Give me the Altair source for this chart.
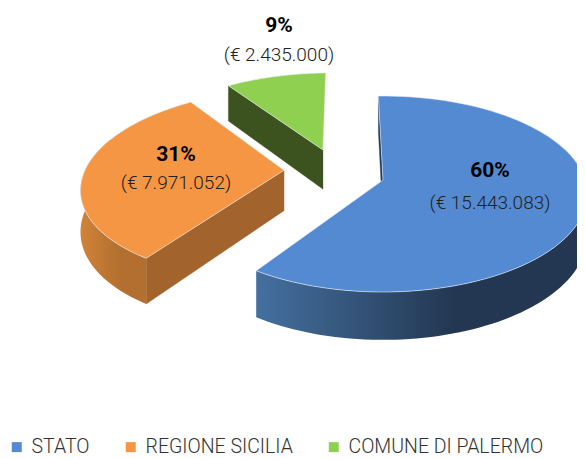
import altair as alt
import numpy as np
import pandas as pd

names = ["STATO", "REGIONE SICILIA", "COMUNE DI PALERMO"]
amounts = [15443083, 7971052, 2435000]
percent = ["60%", "31%", "9%"]
amount_text = ["(€ 15.443.083)", "(€ 7.971.052)", "(€ 2.435.000)"]
top_colors = ["#548ad2", "#f59644", "#90d050"]
wall_left = ["#44709f", "#d08339", "#3c5320"]
wall_right = ["#233752", "#b26f2f", "#3c5320"]
radial_colors = ["#1f3a5f", "#a2632c", "#3c5320"]
explode_u = [0.0, -0.497, -0.311]
explode_v = [0.0, -0.103, -0.327]
label_x = [490, 176, 279]
label_y1 = [171, 155, 26]
label_y2 = [203, 183, 55]

START = -1.5
CX, CY, RX, RY, K, DEPTH = 383, 180, 202, 96, 1 / 7, 41


def project(u, v, drop=False):
    den = 1 - K * v
    return CX + RX * u / den, CY + RY * v / den + (DEPTH / den if drop else 0)


total = sum(amounts)
bounds = START + np.cumsum([0] + [a / total * 360 for a in amounts])


def arc(i, a0, a1, drop=False):
    t = np.radians(np.linspace(a0, a1, 80))
    return project(explode_u[i] + np.sin(t), explode_v[i] - np.cos(t), drop)


def frame(xs, ys, **extra):
    return pd.DataFrame({"x": xs, "y": ys, "i": np.arange(len(xs)), **extra})


tops, walls, radials = [], [], []
wall_spans = [(70, bounds[1]), (bounds[1], 290), None]
for i, name in enumerate(names):
    ax, ay = project(explode_u[i], explode_v[i])
    x, y = arc(i, bounds[i], bounds[i + 1])
    tops.append(frame(np.r_[ax, x], np.r_[ay, y], name=name))
    bx, by = project(explode_u[i], explode_v[i], True)
    x0, y0 = arc(i, bounds[i], bounds[i] + 0.001)
    x1, y1 = arc(i, bounds[i], bounds[i] + 0.001, True)
    radials.append(frame([ax, x0[0], x1[0], bx], [ay, y0[0], y1[0], by], s=i))
    if wall_spans[i]:
        xt, yt = arc(i, *wall_spans[i])
        xb, yb = arc(i, *wall_spans[i], True)
        walls.append((i, frame(np.r_[xt, xb[::-1]], np.r_[yt, yb[::-1]])))

xs = alt.Scale(domain=[8, 577], range=[0, 569], nice=False, zero=False)
ys = alt.Scale(domain=[8, 459], range=[0, 451], nice=False, zero=False)
X = alt.X("x:Q", scale=xs, axis=None)
Y = alt.Y("y:Q", scale=ys, axis=None)
O = alt.Order("i:Q")

layers = []
for r, c in zip(radials, radial_colors):
    layers.append(alt.Chart(r).mark_line(filled=True, interpolate="linear-closed", clip=True, fill=c, stroke=c, strokeWidth=0.3)
                  .encode(x=X, y=Y, order=O))
for i, w in walls:
    grad = alt.Gradient(gradient="linear", x1=0, x2=1, y1=0, y2=0, stops=[
        alt.GradientStop(offset=0, color=wall_left[i]),
        alt.GradientStop(offset=0.6, color=wall_right[i]),
        alt.GradientStop(offset=1, color=wall_right[i])])
    layers.append(alt.Chart(w).mark_line(filled=True, interpolate="linear-closed", clip=True, fill=grad, strokeWidth=0)
                  .encode(x=X, y=Y, order=O))

top_df = pd.concat(tops)
layers.append(alt.Chart(top_df).mark_line(filled=True, interpolate="linear-closed", clip=True, stroke="#e8eef5", strokeWidth=0.6)
              .encode(x=X, y=Y, order=O,
                      fill=alt.Fill("name:N", scale=alt.Scale(domain=names, range=top_colors), legend=alt.Legend(
                          title=None, orient="none", legendX=-1, legendY=429, direction="horizontal", symbolType="square",
                          symbolSize=100, symbolStrokeWidth=0, labelFont="Roboto", labelFontWeight=300, labelFontSize=19.5,
                          labelColor="#333333", columnPadding=31, labelOffset=5, labelLimit=300))))

lab = pd.DataFrame({"x": label_x, "y1": label_y1, "y2": label_y2, "p": percent, "a": amount_text})
layers.append(alt.Chart(lab).mark_text(font="Roboto", fontWeight="bold", fontSize=21, color="#000000")
              .encode(x=X, y=alt.Y("y1:Q", scale=ys, axis=None), text="p:N"))
layers.append(alt.Chart(lab).mark_text(font="Roboto", fontWeight=300, fontSize=19, color="#222222")
              .encode(x=X, y=alt.Y("y2:Q", scale=ys, axis=None), text="a:N"))

chart = alt.layer(*layers).resolve_scale(x="shared", y="shared").properties(
    width=569, height=451, padding=0, autosize=alt.AutoSizeParams(type="none")
).configure_view(stroke=None)
chart.save("out.html", embed_options={"renderer": "svg", "actions": False})
